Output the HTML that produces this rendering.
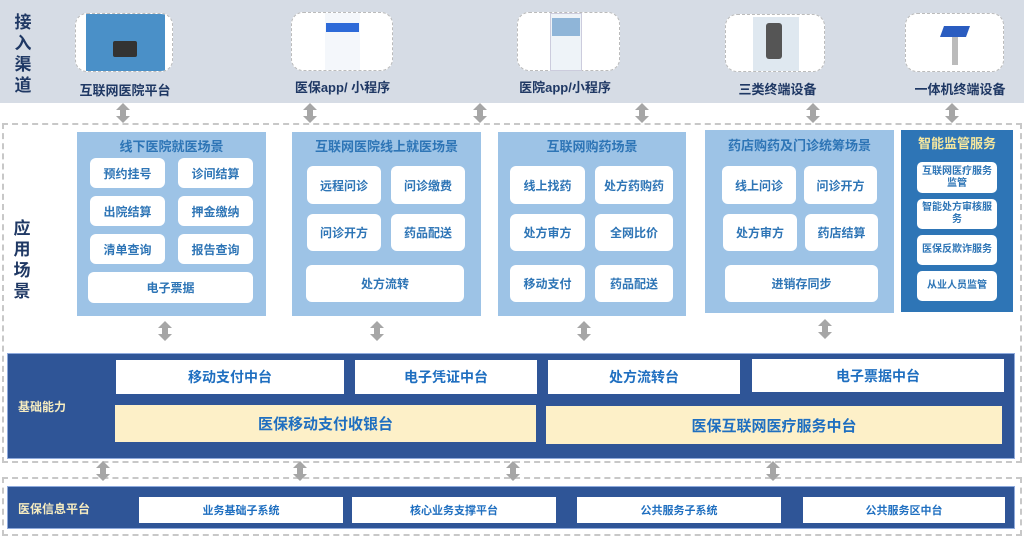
<!DOCTYPE html>
<html><head><meta charset="utf-8"><style>
body{margin:0;width:1024px;height:537px;position:relative;background:#fff;overflow:hidden;font-family:"Liberation Sans","Noto Sans CJK SC",sans-serif;font-weight:bold}
div{position:absolute;box-sizing:border-box}
.c{display:flex;align-items:center;justify-content:center;text-align:center}
.img{border:1.5px dashed #bbb;border-radius:12px;background:#fff}
.lbl{font-size:13px;color:#1f3864;text-align:center}
.pan{background:#9dc3e6}
.pt{color:#2e75b6;font-size:13px;text-align:center}
.it{background:#fff;border-radius:6px;color:#2e75b6;font-size:12px}
.it5{background:#fff;border-radius:5px;color:#2e75b6;font-size:10px;line-height:12px;left:917px;width:80px}
.w1{background:#fff;color:#1f6fc0;font-size:14px}
.cr{background:#fdf0c8;color:#1f6fc0;font-size:15px}
.w2{background:#fff;color:#1f6fc0;font-size:11px;top:497px;height:26px}
.vt{color:#1f3864;font-size:17px;line-height:21px;width:22px;text-align:center}
</style></head><body>
<div style="left:0;top:0;width:1024px;height:103px;background:#d6dce5"></div>
<div class="vt" style="left:12px;top:12px">接<br>入<br>渠<br>道</div>
<div class="img" style="left:75px;top:13px;width:98px;height:59px;overflow:hidden"><div style="left:10px;top:0;width:79px;height:58px;background:#4a90c8"></div><div style="left:37px;top:27px;width:24px;height:16px;background:#333;border-radius:2px"></div></div>
<div class="img" style="left:291px;top:12px;width:102px;height:59px"><div style="left:33px;top:0;width:35px;height:57px;background:#f4f7fb"></div><div style="left:34px;top:10px;width:33px;height:9px;background:#2d6ad8"></div></div>
<div class="img" style="left:517px;top:12px;width:103px;height:59px"><div style="left:32px;top:0;width:32px;height:58px;background:#eef3f8;border:1px solid #ccd"></div><div style="left:34px;top:5px;width:28px;height:18px;background:#8fb5d8"></div></div>
<div class="img" style="left:725px;top:14px;width:100px;height:58px"><div style="left:27px;top:2px;width:46px;height:54px;background:#dfe8f0"></div><div style="left:40px;top:8px;width:16px;height:36px;background:#555;border-radius:3px"></div></div>
<div class="img" style="left:905px;top:13px;width:99px;height:59px"><div style="left:36px;top:12px;width:26px;height:11px;background:#2a5cc0;transform:skewX(-20deg)"></div><div style="left:46px;top:23px;width:6px;height:28px;background:#bbb"></div></div>
<div class="lbl" style="left:70px;top:80px;width:110px">互联网医院平台</div>
<div class="lbl" style="left:280px;top:77px;width:125px">医保app/ 小程序</div>
<div class="lbl" style="left:505px;top:77px;width:120px">医院app/小程序</div>
<div class="lbl" style="left:720px;top:79px;width:115px">三类终端设备</div>
<div class="lbl" style="left:900px;top:79px;width:120px">一体机终端设备</div>

<div style="left:2px;top:123px;width:1020px;height:340px;border:2px dashed #c8c8c8"></div>
<div style="left:2px;top:477px;width:1020px;height:59px;border:2px dashed #c8c8c8"></div>
<div class="vt" style="left:11px;top:218px">应<br>用<br>场<br>景</div>

<div class="pan" style="left:77px;top:132px;width:189px;height:184px"></div>
<div class="pt" style="left:77px;top:136px;width:189px">线下医院就医场景</div>
<div class="it c" style="left:90px;top:158px;width:75px;height:30px">预约挂号</div>
<div class="it c" style="left:178px;top:158px;width:75px;height:30px">诊间结算</div>
<div class="it c" style="left:90px;top:196px;width:75px;height:30px">出院结算</div>
<div class="it c" style="left:178px;top:196px;width:75px;height:30px">押金缴纳</div>
<div class="it c" style="left:90px;top:234px;width:75px;height:30px">清单查询</div>
<div class="it c" style="left:178px;top:234px;width:75px;height:30px">报告查询</div>
<div class="it c" style="left:88px;top:272px;width:165px;height:31px">电子票据</div>

<div class="pan" style="left:292px;top:132px;width:189px;height:184px"></div>
<div class="pt" style="left:292px;top:136px;width:189px">互联网医院线上就医场景</div>
<div class="it c" style="left:307px;top:166px;width:74px;height:38px">远程问诊</div>
<div class="it c" style="left:391px;top:166px;width:74px;height:38px">问诊缴费</div>
<div class="it c" style="left:307px;top:214px;width:74px;height:37px">问诊开方</div>
<div class="it c" style="left:391px;top:214px;width:74px;height:37px">药品配送</div>
<div class="it c" style="left:306px;top:265px;width:158px;height:37px">处方流转</div>

<div class="pan" style="left:498px;top:132px;width:188px;height:184px"></div>
<div class="pt" style="left:498px;top:136px;width:188px">互联网购药场景</div>
<div class="it c" style="left:510px;top:166px;width:75px;height:38px">线上找药</div>
<div class="it c" style="left:595px;top:166px;width:78px;height:38px">处方药购药</div>
<div class="it c" style="left:510px;top:214px;width:75px;height:37px">处方审方</div>
<div class="it c" style="left:595px;top:214px;width:78px;height:37px">全网比价</div>
<div class="it c" style="left:510px;top:265px;width:75px;height:37px">移动支付</div>
<div class="it c" style="left:595px;top:265px;width:78px;height:37px">药品配送</div>

<div class="pan" style="left:705px;top:130px;width:189px;height:183px"></div>
<div class="pt" style="left:705px;top:135px;width:189px">药店购药及门诊统筹场景</div>
<div class="it c" style="left:722px;top:166px;width:74px;height:38px">线上问诊</div>
<div class="it c" style="left:804px;top:166px;width:73px;height:38px">问诊开方</div>
<div class="it c" style="left:723px;top:214px;width:74px;height:37px">处方审方</div>
<div class="it c" style="left:805px;top:214px;width:73px;height:37px">药店结算</div>
<div class="it c" style="left:725px;top:265px;width:153px;height:37px">进销存同步</div>

<div style="left:901px;top:130px;width:112px;height:182px;background:#2e75b6"></div>
<div style="left:901px;top:133px;width:112px;text-align:center;color:#f5e79e;font-size:13px">智能监管服务</div>
<div class="it5 c" style="top:162px;height:31px">互联网医疗服务<br>监管</div>
<div class="it5 c" style="top:199px;height:30px">智能处方审核服<br>务</div>
<div class="it5 c" style="top:235px;height:30px">医保反欺诈服务</div>
<div class="it5 c" style="top:271px;height:30px">从业人员监管</div>

<div style="left:7px;top:353px;width:1008px;height:106px;background:#2f5597;border:1px solid #8faadc"></div>
<div style="left:18px;top:398px;color:#f6ecc0;font-size:12px">基础能力</div>
<div class="w1 c" style="left:116px;top:360px;width:228px;height:34px">移动支付中台</div>
<div class="w1 c" style="left:355px;top:360px;width:182px;height:34px">电子凭证中台</div>
<div class="w1 c" style="left:548px;top:360px;width:192px;height:34px">处方流转台</div>
<div class="w1 c" style="left:752px;top:359px;width:252px;height:33px">电子票据中台</div>
<div class="cr c" style="left:115px;top:405px;width:421px;height:37px">医保移动支付收银台</div>
<div class="cr c" style="left:546px;top:406px;width:456px;height:38px">医保互联网医疗服务中台</div>

<div style="left:7px;top:486px;width:1008px;height:43px;background:#2f5597;border:1px solid #8faadc"></div>
<div style="left:18px;top:500px;color:#f6ecc0;font-size:12px">医保信息平台</div>
<div class="w2 c" style="left:139px;width:204px">业务基础子系统</div>
<div class="w2 c" style="left:352px;width:204px">核心业务支撑平台</div>
<div class="w2 c" style="left:577px;width:204px">公共服务子系统</div>
<div class="w2 c" style="left:803px;width:202px">公共服务区中台</div>

<svg width="1024" height="537" style="position:absolute;left:0;top:0">
<defs><path id="a" d="M0,-10 L7,-3 L3,-3 L3,3 L7,3 L0,10 L-7,3 L-3,3 L-3,-3 L-7,-3 Z" fill="#a6a6a6"/></defs>
<use href="#a" x="123" y="113"/><use href="#a" x="310" y="113"/><use href="#a" x="480" y="113"/>
<use href="#a" x="642" y="113"/><use href="#a" x="813" y="113"/><use href="#a" x="952" y="113"/>
<use href="#a" x="165" y="331"/><use href="#a" x="377" y="331"/><use href="#a" x="584" y="331"/><use href="#a" x="825" y="329"/>
<use href="#a" x="103" y="471"/><use href="#a" x="300" y="471"/><use href="#a" x="513" y="471"/><use href="#a" x="773" y="471"/>
</svg>
</body></html>
